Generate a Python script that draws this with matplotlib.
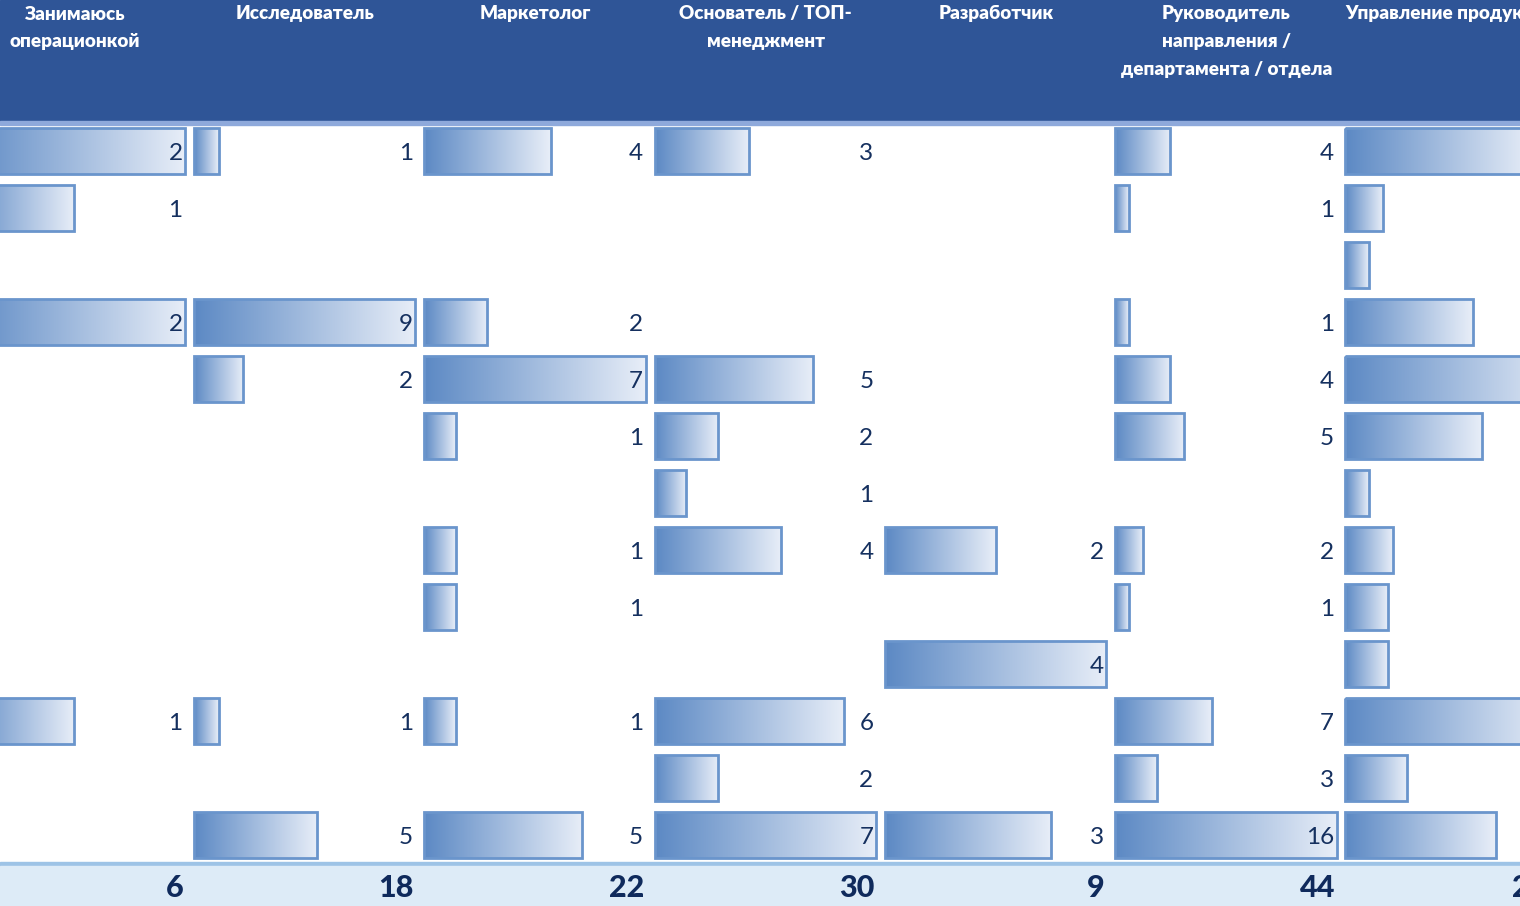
import numpy as np
import matplotlib.pyplot as plt
from matplotlib.colors import LinearSegmentedColormap
from matplotlib.patches import Rectangle

plt.rcParams['font.family'] = ['Lato', 'Open Sans', 'DejaVu Sans']

# column headers (last one is cut off at the right edge of the picture)
headers = ["Занимаюсь\nоперационкой", "Исследователь", "Маркетолог",
           "Основатель / ТОП-\nменеджмент", "Разработчик",
           "Руководитель\nнаправления /\nдепартамента / отдела",
           "Управление продуктом"]

# counts per row (13 rows), 0 = empty cell
operations = [2, 1, 0, 2, 0, 0, 0, 0, 0, 0, 1, 0, 0]
researcher = [1, 0, 0, 9, 2, 0, 0, 0, 0, 0, 1, 0, 5]
marketer   = [4, 0, 0, 2, 7, 1, 0, 1, 1, 0, 1, 0, 5]
founder    = [3, 0, 0, 0, 5, 2, 1, 4, 0, 0, 6, 2, 7]
developer  = [0, 0, 0, 0, 0, 0, 0, 2, 0, 4, 0, 0, 3]
head_dept  = [4, 1, 0, 1, 4, 5, 0, 2, 1, 0, 7, 3, 16]
product    = [40, 8, 5, 27, 47, 29, 5, 10, 9, 9, 44, 13, 32]

columns = [operations, researcher, marketer, founder, developer, head_dept, product]

W, H = 1520, 906
fig = plt.figure(figsize=(W / 100, H / 100), dpi=100)

bg = fig.add_axes([0, 0, 1, 1])
bg.set_xlim(0, W)
bg.set_ylim(H, 0)
bg.axis('off')

# header band and total band
bg.add_patch(Rectangle((0, 0), W, 121, color='#2F5597', zorder=0))
bg.add_patch(Rectangle((0, 121), W, 3.5, color='#8EA9DB', zorder=0))
bg.add_patch(Rectangle((0, 862), W, 4, color='#9DC3E6', zorder=0))
bg.add_patch(Rectangle((0, 866), W, 40, color='#DDEBF7', zorder=0))

cmap = LinearSegmentedColormap.from_list('bar', ['#5C89C4', '#E8EEF8'])
grad = np.linspace(0, 1, 256).reshape(1, -1)

col_w = 230.3
first_left = -36.4
bar_w = 221.5
top, bottom = 122.5, 863.5
nrows = len(operations)
navy = '#15305F'

for i, (head, vals) in enumerate(zip(headers, columns)):
    left = first_left + i * col_w
    vals = np.array(vals)
    vmax = vals.max()

    # header text
    lines = head.split('\n')
    for k, line in enumerate(lines):
        if i == len(headers) - 1:
            bg.text(left, 14 + 27.5 * k, line, ha='left', va='center',
                    color='white', fontsize=13.6, fontweight='heavy')
        else:
            bg.text(left + col_w / 2 - 4, 14 + 27.5 * k, line, ha='center',
                    va='center', color='white', fontsize=13.6, fontweight='heavy')

    # total
    bg.text(left + 220, 888, str(vals.sum()), ha='right', va='center',
            color='#0F2A5C', fontsize=22, fontweight='black')

    ax = fig.add_axes([left / W, (H - bottom) / H, bar_w / W, (bottom - top) / H])
    ax.axis('off')
    rows = np.arange(nrows)
    mask = vals > 0
    bars = ax.barh(rows[mask], vals[mask], height=0.81, facecolor='none',
                   edgecolor='#6A95CC', linewidth=2.0, zorder=3)
    for b in bars:
        b.set_clip_on(False)
        x0, y0 = b.get_x(), b.get_y()
        im = ax.imshow(grad, extent=(x0, x0 + b.get_width(), y0 + b.get_height(), y0),
                       cmap=cmap, aspect='auto', zorder=2)
        im.set_clip_path(b)
    for r, v in zip(rows[mask], vals[mask]):
        ax.text(vmax * 219 / bar_w, r + 0.04, str(v), ha='right', va='center',
                color=navy, fontsize=17.5)
    ax.set_xlim(0, vmax)
    ax.set_ylim(nrows - 0.5, -0.5)

fig.savefig('out.png', dpi=100)
